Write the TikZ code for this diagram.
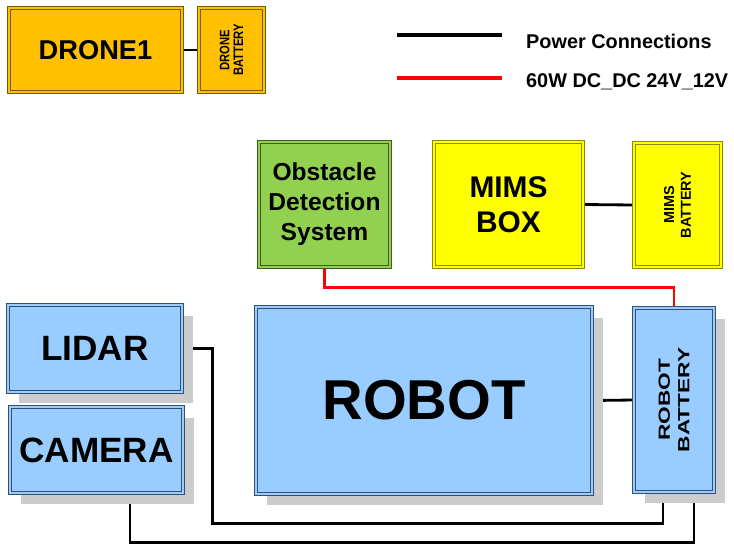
\documentclass[tikz,border=0pt]{standalone}
\usepackage{fontspec}
\setmainfont{Liberation Sans}
\usetikzlibrary{positioning, shadows, backgrounds, calc}
\definecolor{corange}{HTML}{FFC000}
\definecolor{corangeb}{HTML}{7A5C00}
\definecolor{cyellow}{HTML}{FFFF00}
\definecolor{cyellowb}{HTML}{8A8A00}
\definecolor{cgreen}{HTML}{92D050}
\definecolor{cgreenb}{HTML}{3F5A22}
\definecolor{cblue}{HTML}{99CCFF}
\definecolor{cblueb}{HTML}{34506E}
\definecolor{cshadow}{HTML}{CCCCCC}
\tikzset{
  every picture/.style={font=\bfseries},
  box/.style={draw=#1b, fill=#1, double=#1, double distance=1.2pt, line width=0.6pt,
    align=center, inner sep=0pt},
  box/.default=cblue,
  shbox/.style={box=cblue, drop shadow={shadow xshift=0.22cm, shadow yshift=-0.22cm, fill=cshadow, opacity=1}},
  wire/.style={draw=black, line width=1.6pt},
  dcwire/.style={draw=red, line width=1.6pt},
}
\begin{document}
\begin{tikzpicture}[
  bat/.style={rotate=90, align=center, inner sep=0pt}]
  \useasboundingbox (0,0) rectangle (14.68,-10.9);
  % drone
  \node[box=corange, minimum width=3.46cm, minimum height=1.68cm, font=\fontsize{15.5}{18}\selectfont\bfseries] (drone) at (1.91,-1.0) {DRONE1};
  \node[box=corange, minimum width=1.3cm, minimum height=1.68cm] (dbat) at (4.63,-1.0) {};
  \node[bat, xscale=0.82, font=\fontsize{7.8}{7.8}\selectfont\bfseries] (dbattext) at (dbat) {DRONE\\BATTERY};
  % legend
  \coordinate (lpa) at (7.94,-0.7);
  \coordinate (lpb) at (10.04,-0.7);
  \coordinate (lda) at (7.94,-1.56);
  \coordinate (ldb) at (10.04,-1.56);
  \draw[wire, line width=2.2pt] (lpa) -- (lpb);
  \draw[dcwire, line width=2.2pt] (lda) -- (ldb);
  \node[anchor=west, font=\fontsize{11.3}{13}\selectfont\bfseries] (lpower) at (10.4,-0.82) {Power Connections};
  \node[anchor=west, font=\fontsize{11.3}{13}\selectfont\bfseries] (ldcdc) at (10.4,-1.64) {60W DC\_DC 24V\_12V};
  % upper row
  \node[box=cgreen, minimum width=2.62cm, minimum height=2.5cm, font=\fontsize{14}{17}\selectfont\bfseries] (ods) at (6.49,-4.09) {Obstacle\\Detection\\System};
  \node[box=cyellow, minimum width=2.98cm, minimum height=2.5cm, font=\fontsize{17}{20}\selectfont\bfseries] (mims) at (10.17,-4.09) {MIMS\\BOX};
  \node[box=cyellow, minimum width=1.74cm, minimum height=2.48cm] (mbat) at (13.55,-4.1) {};
  \node[bat, font=\fontsize{8.2}{9.5}\selectfont\bfseries] (mbattext) at (mbat) {MIMS\\BATTERY};
  % robot and sensors
  \node[shbox, minimum width=3.48cm, minimum height=1.74cm, font=\fontsize{20}{24}\selectfont\bfseries] (lidar) at (1.9,-6.97) {LIDAR};
  \node[shbox, minimum width=3.46cm, minimum height=1.72cm, font=\fontsize{20}{24}\selectfont\bfseries] (camera) at (1.93,-9.0) {CAMERA};
  \node[shbox, minimum width=6.72cm, minimum height=3.74cm, font=\fontsize{32}{38}\selectfont\bfseries] (robot) at (8.48,-8.01) {ROBOT};
  \node[shbox, minimum width=1.6cm, minimum height=3.68cm] (rbat) at (13.48,-8.0) {};
  \node[bat, xscale=1.4, font=\fontsize{9.2}{11}\selectfont\bfseries] (rbattext) at (rbat) {ROBOT\\BATTERY};
  \coordinate (rbl) at ([xshift=-0.22cm]rbat.south);
  \coordinate (rbr) at ([xshift=0.4cm]rbat.south);
  % connections
  \begin{scope}[on background layer]
    \draw[wire] (drone.east) -- (dbat.west);
    \draw[wire] (mims.east) -- (mbat.west);
    \draw[wire] (robot.east) -- (rbat.west);
    \draw[dcwire] (ods.south) -- ++(0,-0.4) -| (rbat.north);
    \draw[wire] (lidar.east) -- ++(0.6,0) |- ([yshift=-0.62cm]rbl) -- (rbl);
    \draw[wire] ([xshift=0.67cm]camera.south) |- ([yshift=-1cm]rbr) -- (rbr);
  \end{scope}
\end{tikzpicture}
\end{document}
